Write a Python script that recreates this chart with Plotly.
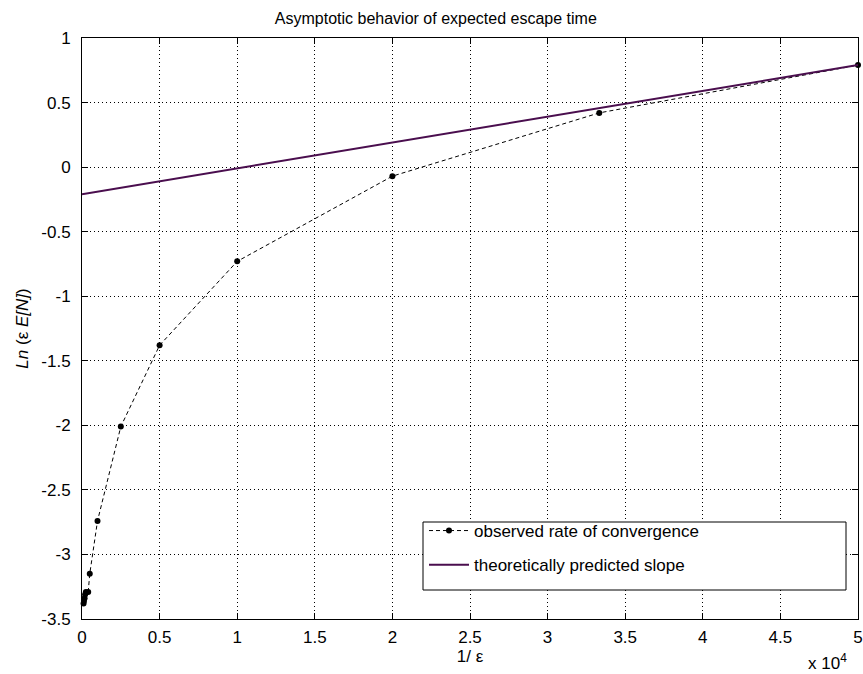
import plotly.graph_objects as go

inv_eps = [0.01, 0.0125, 0.0167, 0.02, 0.025, 0.04, 0.05, 0.1, 0.25, 0.5, 1, 2, 3.333, 5]
ln_eps_en = [-3.38, -3.36, -3.34, -3.31, -3.29, -3.29, -3.15, -2.74, -2.01, -1.38, -0.73, -0.07, 0.42, 0.79]
theory_x = [0, 5]
theory_y = [-0.21, 0.79]

x_ticks = [0, 0.5, 1, 1.5, 2, 2.5, 3, 3.5, 4, 4.5, 5]
y_ticks = [-3.5, -3, -2.5, -2, -1.5, -1, -0.5, 0, 0.5, 1]

FS = 17
L, R = 82, 858

fig = go.Figure()
fig.add_trace(go.Scatter(
    x=inv_eps, y=ln_eps_en, mode="lines+markers",
    name="observed rate of convergence", legendgroup="a",
    line=dict(color="black", width=1, dash="4px,3px"),
    marker=dict(color="black", size=6),
    cliponaxis=False,
))
fig.add_trace(go.Scatter(
    x=theory_x, y=theory_y, mode="lines",
    name="theoretically predicted slope", legendgroup="b",
    line=dict(color="#4a0e4e", width=2),
))

axis_common = dict(
    showline=True, linecolor="black", linewidth=1, mirror="ticks",
    ticks="inside", ticklen=6, tickcolor="black",
    showgrid=True, gridcolor="black", gridwidth=1, griddash="1px,3px",
    zeroline=False, tickfont=dict(size=FS, color="black"),
    ticklabeloverflow="allow", automargin=False,
)
fig.update_xaxes(range=[0, 5], tickvals=x_ticks, ticktext=[str(v) for v in x_ticks],
                 ticklabelstandoff=3,
                 title=dict(text="1/ ε", font=dict(size=FS), standoff=0), **axis_common)
fig.update_yaxes(range=[-3.5, 1], tickvals=y_ticks, ticktext=[str(v) for v in y_ticks],
                 ticklabelstandoff=7,
                 title=dict(text="<i>Ln</i> (ε <i>E[N]</i>)", font=dict(size=FS), standoff=8), **axis_common)

W = R - L
fig.add_annotation(x=(849 - L) / W, y=0, xref="x domain", yref="paper",
                   xanchor="right", yanchor="top", yshift=-30,
                   text="x 10<sup>4</sup>", showarrow=False,
                   font=dict(size=FS, color="black"))

# legend box
fig.add_shape(type="rect", xref="paper", yref="paper",
              x0=(423 - L) / W, x1=(846 - L) / W,
              y0=(619 - 590) / 581, y1=(619 - 522) / 581,
              line=dict(color="black", width=1), fillcolor="white", layer="above")

fig.update_layout(
    width=863, height=674,
    margin=dict(l=L, r=863 - R, t=38, b=55, autoexpand=False),
    paper_bgcolor="white", plot_bgcolor="white",
    font=dict(family="Liberation Sans, Arial, sans-serif", color="black"),
    title=dict(text="Asymptotic behavior of expected escape time", x=0.505, xanchor="center",
               y=1 - 18 / 674, yanchor="middle", font=dict(size=16)),
    showlegend=True,
    legend=dict(x=(424 - L) / W, y=(619 - 513) / 581, xanchor="left", yanchor="top",
                bgcolor="rgba(0,0,0,0)", borderwidth=0,
                font=dict(size=FS), tracegroupgap=9, itemwidth=40),
)

fig.write_html("out.html")
